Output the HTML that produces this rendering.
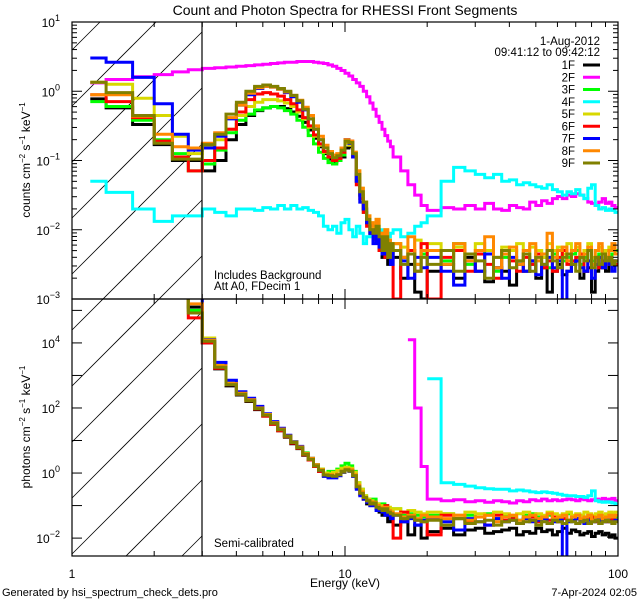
<!DOCTYPE html>
<html><head><meta charset="utf-8"><style>
html,body{margin:0;padding:0;background:#fff;overflow:hidden;width:640px;height:600px;}
svg{display:block;font-family:"Liberation Sans",sans-serif;}
</style></head><body>
<svg id="chart" width="640" height="600" viewBox="0 0 640 600" xmlns="http://www.w3.org/2000/svg">
<rect width="640" height="600" fill="#fff"/>
<defs>
<clipPath id="ctop"><rect x="72" y="22" width="546" height="277"/></clipPath>
<clipPath id="cbot"><rect x="72" y="299" width="546" height="257"/></clipPath>
</defs>
<text x="345" y="15" font-size="14" text-anchor="middle">Count and Photon Spectra for RHESSI Front Segments</text>
<g id="hatching"></g>
<g id="topSeries" clip-path="url(#ctop)"></g>
<g id="botSeries" clip-path="url(#cbot)"></g>
<g id="axes"></g>
<text x="214" y="279" font-size="11.5">Includes Background</text>
<text x="214" y="290" font-size="11.5">Att A0, FDecim 1</text>
<text x="214" y="547" font-size="11.5">Semi-calibrated</text>
<text x="345" y="587" font-size="12" text-anchor="middle">Energy (keV)</text>
<text x="2" y="596" font-size="11">Generated by hsi_spectrum_check_dets.pro</text>
<text x="637" y="596" font-size="11" text-anchor="end">7-Apr-2024 02:05</text>
<text transform="translate(30,160) rotate(-90)" font-size="12" text-anchor="middle">counts cm<tspan dy="-5" font-size="8">−2</tspan><tspan dy="5"> s</tspan><tspan dy="-5" font-size="8">−1</tspan><tspan dy="5"> keV</tspan><tspan dy="-5" font-size="8">−1</tspan></text>
<text transform="translate(30,427) rotate(-90)" font-size="12" text-anchor="middle">photons cm<tspan dy="-5" font-size="8">−2</tspan><tspan dy="5"> s</tspan><tspan dy="-5" font-size="8">−1</tspan><tspan dy="5"> keV</tspan><tspan dy="-5" font-size="8">−1</tspan></text>
<g id="legend"></g>
</svg>
<script>
// ---- data (log10 values) ----
const detectors = ["1F","2F","3F","4F","5F","6F","7F","8F","9F"];
const colors = ["#000000","#ff00ff","#00ff00","#00ffff","#d8d800","#ff0000","#0000ff","#ff8800","#808000"];
const xTickLabels = ["1","10","100"];
const topTickExps = [-3,-2,-1,0,1];
const botTickExps = [-2,0,2,4];
const obsDate = "1-Aug-2012";
const obsTime = "09:41:12 to 09:42:12";
// count spectra: bins 1.17-1.33,1.33-1.67,1.67-2,2-2.33,2.33-2.67,2.67-3, then 1/3 keV to 15, 1 keV to 20, 2.5 keV to 100
const cnt1F = [-0.11,-0.24,-0.48,-0.77,-1.0,-1.0,
 -1.15,-1.0,-0.7,-0.48,-0.35,-0.28,-0.24,-0.22,-0.22,-0.25,-0.3,-0.36,-0.45,-0.56,-0.68,-0.8,-0.9,-0.98,-1.02,-1.0,-0.95,-0.82,-0.8,-0.95,-1.3,-1.5,-1.7,-1.9,-2.05,-2.1,-2.0,-2.2,-2.4,-2.2,-2.5,-2.3,
 -2.4,-2.7,-2.5,-2.9,-3.0,
 -2.6,-2.5,-2.7,-2.4,-2.6,-2.75,-2.55,-2.6,-2.8,-2.5,-2.6,-2.45,-2.7,-2.55,-2.9,-2.6,-2.5,-2.65,-2.6,-2.5,-2.45,-2.7,-2.6,-2.55,-2.9,-2.6,-2.5,-2.55,-2.6,-2.5,-2.45,-2.5];
const cnt2F = [0.12,0.17,0.21,0.24,0.28,0.31,
 0.33,0.34,0.35,0.36,0.37,0.38,0.39,0.4,0.41,0.42,0.42,0.43,0.43,0.43,0.42,0.41,0.4,0.38,0.36,0.33,0.3,0.26,0.22,0.17,0.12,0.07,0.0,-0.08,-0.17,-0.26,-0.36,-0.45,-0.55,-0.64,-0.72,-0.8,
 -0.95,-1.15,-1.35,-1.5,-1.65,
 -1.72,-1.68,-1.7,-1.65,-1.7,-1.62,-1.7,-1.72,-1.65,-1.68,-1.7,-1.6,-1.65,-1.58,-1.62,-1.55,-1.52,-1.55,-1.5,-1.52,-1.48,-1.5,-1.55,-1.6,-1.62,-1.65,-1.6,-1.55,-1.62,-1.6,-1.65,-1.68];
const cnt3F = [-0.15,-0.22,-0.42,-0.7,-0.9,-1.15,
 -1.05,-0.85,-0.6,-0.42,-0.33,-0.27,-0.24,-0.22,-0.24,-0.28,-0.33,-0.42,-0.52,-0.64,-0.76,-0.88,-0.97,-1.03,-1.05,-1.0,-0.92,-0.72,-0.74,-0.92,-1.25,-1.5,-1.75,-1.9,-2.0,-1.95,-2.1,-2.3,-2.05,-2.25,-2.15,-2.35,
 -2.2,-2.4,-2.3,-2.5,-2.35,
 -2.3,-2.45,-2.2,-2.5,-2.35,-2.3,-2.6,-2.4,-2.3,-2.45,-2.35,-2.5,-2.3,-2.4,-2.55,-2.35,-2.3,-2.45,-2.4,-2.35,-2.3,-2.5,-2.4,-2.3,-2.45,-2.4,-2.35,-2.3,-2.4,-2.45,-2.35,-2.3];
const cnt4F = [-1.3,-1.46,-1.7,-1.88,-1.8,-1.8,
 -1.7,-1.75,-1.8,-1.7,-1.7,-1.72,-1.68,-1.7,-1.65,-1.7,-1.65,-1.7,-1.68,-1.72,-1.75,-1.8,-1.95,-2.0,-1.95,-2.05,-1.9,-1.85,-2.0,-2.1,-1.95,-2.05,-2.2,-2.1,-1.95,-2.0,-2.15,-2.0,-2.05,-2.2,-2.1,-2.05,
 -2.0,-2.1,-2.05,-1.95,-1.9,
 -1.8,-1.3,-1.1,-1.15,-1.2,-1.25,-1.2,-1.3,-1.28,-1.35,-1.32,-1.35,-1.38,-1.4,-1.35,-1.42,-1.45,-1.5,-1.45,-1.48,-1.42,-1.5,-1.55,-1.4,-1.35,-1.65,-1.7,-1.68,-1.72,-1.7,-1.72,-1.75];
const cnt5F = [0.13,0.1,-0.1,-0.35,-0.65,-0.9,
 -0.8,-0.7,-0.55,-0.35,-0.22,-0.16,-0.12,-0.12,-0.14,-0.17,-0.22,-0.3,-0.4,-0.52,-0.65,-0.78,-0.88,-0.95,-0.98,-0.95,-0.85,-0.75,-0.78,-0.88,-1.15,-1.4,-1.6,-1.8,-1.9,-2.0,-1.85,-2.05,-2.2,-2.0,-2.15,-2.3,
 -2.2,-2.25,-2.35,-2.15,-2.3,
 -2.2,-2.3,-2.25,-2.35,-2.2,-2.3,-2.4,-2.25,-2.3,-2.2,-2.35,-2.25,-2.3,-2.4,-2.2,-2.3,-2.25,-2.35,-2.2,-2.3,-2.25,-2.35,-2.3,-2.2,-2.4,-2.3,-2.25,-2.35,-2.3,-2.25,-2.3,-2.35];
const cnt6F = [-0.05,-0.15,-0.38,-0.72,-0.95,-1.15,
 -1.0,-0.82,-0.55,-0.3,-0.12,-0.04,-0.02,-0.04,-0.07,-0.12,-0.18,-0.27,-0.38,-0.5,-0.63,-0.76,-0.87,-0.95,-1.0,-0.97,-0.88,-0.7,-0.72,-0.95,-1.35,-1.55,-1.75,-1.95,-2.05,-2.0,-2.15,-2.3,-2.1,-2.4,-2.25,-2.3,
 -3.0,-2.4,-2.3,-2.6,-2.2,
 -3.0,-2.4,-2.3,-2.6,-2.35,-2.5,-2.7,-2.3,-2.45,-2.6,-2.4,-2.5,-2.35,-2.55,-2.45,-2.6,-2.4,-2.3,-2.5,-2.45,-2.4,-2.35,-2.6,-2.45,-2.5,-2.4,-2.55,-2.45,-2.4,-2.5,-2.45,-2.5];
const cnt7F = [0.48,0.42,0.2,-0.18,-0.62,-0.85,
 -0.82,-0.65,-0.4,-0.2,-0.05,0.04,0.07,0.06,0.03,-0.02,-0.08,-0.16,-0.27,-0.4,-0.55,-0.7,-0.82,-0.9,-0.95,-0.93,-0.85,-0.7,-0.75,-0.95,-1.3,-1.6,-1.7,-1.9,-2.05,-2.2,-2.0,-2.25,-2.35,-2.15,-2.3,-2.5,
 -2.3,-2.45,-2.7,-2.4,-2.55,
 -2.4,-2.6,-2.8,-2.45,-2.6,-2.35,-2.55,-2.7,-2.4,-2.5,-2.6,-2.45,-2.65,-2.5,-2.4,-2.55,-2.45,-3.05,-2.6,-2.5,-2.45,-2.55,-2.6,-2.45,-2.7,-2.5,-2.4,-2.55,-2.45,-2.5,-2.6,-2.45];
const cnt8F = [-0.05,-0.05,-0.36,-0.62,-0.8,-0.82,
 -0.75,-0.6,-0.38,-0.2,-0.03,0.05,0.07,0.06,0.03,-0.01,-0.06,-0.13,-0.23,-0.35,-0.5,-0.65,-0.78,-0.87,-0.92,-0.9,-0.82,-0.7,-0.72,-0.88,-1.15,-1.4,-1.6,-1.8,-1.9,-1.95,-1.85,-2.05,-2.2,-2.0,-2.15,-2.3,
 -2.2,-2.4,-2.1,-2.5,-2.3,
 -2.3,-2.5,-2.2,-2.45,-2.3,-2.1,-2.55,-2.35,-2.25,-2.5,-2.3,-2.2,-2.45,-2.35,-2.05,-2.4,-2.3,-2.25,-2.45,-2.3,-2.2,-2.4,-2.35,-2.25,-2.5,-2.3,-2.2,-2.35,-2.4,-2.3,-2.2,-2.35];
const cnt9F = [0.13,-0.02,-0.35,-0.75,-0.98,-0.98,
 -0.77,-0.62,-0.33,-0.16,0.0,0.07,0.09,0.07,0.04,0.0,-0.06,-0.14,-0.26,-0.4,-0.55,-0.7,-0.82,-0.9,-0.96,-0.93,-0.85,-0.72,-0.74,-0.9,-1.2,-1.45,-1.6,-1.85,-2.0,-2.05,-1.95,-2.1,-2.3,-2.1,-2.4,-2.2,
 -2.3,-2.5,-2.35,-2.6,-2.4,
 -2.5,-2.3,-2.6,-2.35,-2.45,-2.7,-2.4,-2.3,-2.55,-2.45,-2.35,-2.6,-2.4,-2.5,-2.3,-2.45,-2.55,-2.4,-2.35,-2.5,-2.6,-2.4,-2.45,-2.3,-2.55,-2.4,-2.5,-2.35,-2.45,-2.4,-2.5,-2.45];
// photon spectra: low bins (clipped above plot), then same binning
const ph1F = [7,7,7,6.5,6,5.1,
 4.0,3.2,2.68,2.4,2.2,1.95,1.75,1.5,1.3,1.1,0.9,0.75,0.55,0.4,0.2,0.05,-0.1,-0.1,-0.12,-0.08,0.03,0.1,0.08,-0.1,-0.45,-0.65,-0.8,-0.95,-1.0,-0.95,-1.1,-1.2,-1.3,-1.2,-1.5,-1.4,
 -1.6,-1.5,-1.9,-1.6,-2.0,
 -1.8,-1.7,-1.9,-1.75,-1.7,-1.85,-1.8,-1.75,-1.7,-1.9,-1.8,-1.85,-1.7,-1.8,-1.75,-1.9,-1.8,-1.7,-1.85,-1.75,-1.8,-1.9,-1.85,-1.8,-1.95,-1.85,-1.8,-1.9,-1.85,-1.95,-1.9,-2.0];
const ph2F = [null,null,null,null,null,null,
 null,null,null,null,null,null,null,null,null,null,null,null,null,null,null,null,null,null,null,null,null,null,null,null,null,null,null,null,null,null,null,null,null,null,null,null,
 null,null,4.1,2.0,0.2,
 -0.8,-0.85,-0.82,-0.88,-0.85,-0.9,-0.85,-0.88,-0.92,-0.85,-0.88,-0.82,-0.85,-0.8,-0.85,-0.82,-0.85,-0.82,-0.8,-0.82,-0.85,-0.8,-0.82,-0.85,-0.82,-0.8,-0.82,-0.78,-0.82,-0.8,-0.78,-0.85];
const ph3F = [7,7,7,6.5,6,5.0,
 4.05,3.28,2.78,2.46,2.26,2.02,1.8,1.56,1.36,1.15,0.96,0.8,0.62,0.45,0.26,0.12,0.0,0.05,0.05,0.12,0.22,0.3,0.22,0.05,-0.3,-0.5,-0.7,-0.8,-0.85,-0.8,-0.95,-1.0,-0.95,-1.0,-1.1,-1.2,
 -1.1,-1.3,-1.25,-1.3,-1.35,
 -1.3,-1.25,-1.4,-1.3,-1.35,-1.25,-1.4,-1.3,-1.35,-1.45,-1.3,-1.25,-1.35,-1.4,-1.3,-1.35,-1.4,-1.3,-1.25,-1.35,-1.4,-1.3,-1.35,-1.3,-1.4,-1.35,-1.3,-1.4,-1.35,-1.3,-1.25,-1.35];
const ph4F = [null,null,null,null,null,null,
 null,null,null,null,null,null,null,null,null,null,null,null,null,null,null,null,null,null,null,null,null,null,null,null,null,null,null,null,null,null,null,null,null,null,null,null,
 null,null,null,null,null,
 2.9,-0.3,-0.35,-0.4,-0.45,-0.48,-0.5,-0.5,-0.55,-0.52,-0.55,-0.58,-0.6,-0.58,-0.6,-0.62,-0.65,-0.68,-0.7,-0.7,-0.72,-0.72,-0.75,-0.7,-0.55,-0.85,-0.88,-0.9,-0.88,-0.9,-0.92,-0.95];
const ph5F = [7,7,7,6.5,6,5.4,
 4.15,3.32,2.8,2.45,2.25,2.0,1.78,1.55,1.33,1.12,0.93,0.78,0.58,0.45,0.26,0.12,0.0,-0.02,0.02,0.08,0.15,0.18,0.15,0.02,-0.3,-0.5,-0.7,-0.8,-0.85,-0.9,-0.95,-1.0,-1.05,-1.1,-1.05,-1.15,
 -1.1,-1.2,-1.15,-1.2,-1.25,
 -1.2,-1.25,-1.3,-1.2,-1.25,-1.3,-1.2,-1.25,-1.3,-1.25,-1.2,-1.3,-1.25,-1.3,-1.2,-1.25,-1.3,-1.25,-1.2,-1.3,-1.25,-1.3,-1.2,-1.25,-1.3,-1.25,-1.2,-1.3,-1.25,-1.2,-1.25,-1.2];
const ph6F = [7,7,7,6.5,6,4.77,
 4.0,3.22,2.72,2.42,2.22,1.97,1.75,1.5,1.3,1.12,0.92,0.76,0.56,0.4,0.2,0.05,-0.08,-0.08,-0.1,-0.05,0.05,0.1,0.08,-0.08,-0.45,-0.65,-0.8,-0.85,-0.95,-0.9,-1.0,-1.1,-1.15,-1.0,-1.2,-1.3,
 -2.0,-1.2,-1.35,-1.45,-1.5,
 -1.9,-1.3,-1.4,-1.5,-1.35,-1.6,-1.3,-1.45,-1.4,-1.55,-1.4,-1.35,-1.5,-1.4,-1.45,-1.35,-1.5,-1.4,-1.45,-1.35,-1.4,-1.5,-1.45,-1.4,-1.35,-1.5,-1.45,-1.4,-1.5,-1.45,-1.4,-1.45];
const ph7F = [7,7,7,6.5,6,5.5,
 4.1,3.4,2.85,2.5,2.3,2.05,1.82,1.58,1.38,1.16,0.96,0.82,0.6,0.45,0.25,0.08,-0.1,-0.15,-0.15,-0.08,0.05,0.1,0.05,-0.1,-0.5,-0.7,-0.8,-0.9,-1.0,-1.0,-1.15,-1.1,-1.2,-1.3,-1.25,-1.4,
 -1.3,-1.5,-1.4,-1.6,-1.45,
 -1.4,-1.5,-1.75,-1.4,-1.5,-1.6,-1.4,-1.5,-1.45,-1.55,-1.4,-1.5,-1.45,-1.4,-1.55,-1.5,-1.45,-2.6,-1.5,-1.45,-1.4,-1.5,-1.55,-1.45,-1.5,-1.4,-1.45,-1.5,-1.45,-1.5,-1.55,-1.45];
const ph8F = [7,7,7,6.5,6,5.2,
 4.08,3.3,2.75,2.45,2.25,2.0,1.8,1.55,1.35,1.14,0.95,0.8,0.6,0.45,0.25,0.1,-0.05,-0.05,-0.08,-0.03,0.06,0.12,0.1,-0.05,-0.38,-0.58,-0.75,-0.85,-0.95,-0.9,-1.0,-1.05,-1.1,-1.05,-1.15,-1.2,
 -1.25,-1.35,-1.3,-1.4,-1.3,
 -1.35,-1.4,-1.3,-1.45,-1.35,-1.3,-1.5,-1.35,-1.3,-1.45,-1.35,-1.3,-1.4,-1.35,-1.25,-1.4,-1.35,-1.3,-1.45,-1.35,-1.3,-1.4,-1.35,-1.3,-1.45,-1.35,-1.3,-1.4,-1.35,-1.3,-1.35,-1.3];
const ph9F = [7,7,7,6.5,6,4.92,
 4.05,3.25,2.72,2.42,2.22,1.98,1.78,1.53,1.33,1.13,0.94,0.78,0.58,0.42,0.22,0.08,-0.06,-0.08,-0.1,-0.05,0.05,0.1,0.06,-0.08,-0.42,-0.62,-0.75,-0.85,-0.95,-0.92,-1.05,-1.1,-1.15,-1.1,-1.2,-1.25,
 -1.3,-1.4,-1.35,-1.45,-1.5,
 -1.45,-1.6,-1.4,-1.55,-1.5,-1.45,-1.6,-1.5,-1.45,-1.55,-1.5,-1.45,-1.6,-1.5,-1.55,-1.45,-1.5,-1.55,-1.45,-1.5,-1.55,-1.5,-1.45,-1.55,-1.5,-1.45,-1.55,-1.5,-1.45,-1.5,-1.55,-1.5];
const countSeries = [cnt1F,cnt2F,cnt3F,cnt4F,cnt5F,cnt6F,cnt7F,cnt8F,cnt9F];
const photonSeries = [ph1F,ph2F,ph3F,ph4F,ph5F,ph6F,ph7F,ph8F,ph9F];
const drawOrder = [1,3,0,2,4,5,6,7,8];

// ---- bin edges (energy categories) ----
const edges = [1.167,1.333,1.667,2,2.333,2.667,3];
for (let i=1;i<=36;i++) edges.push(3+i/3);
for (let e=16;e<=20;e++) edges.push(e);
for (let i=1;i<=32;i++) edges.push(20+i*2.5);

// ---- axes functions ----
const X0=72, X1=618, TOP0=22, TOP1=299, BOT0=299, BOT1=556;
const xs = e => X0 + (X1-X0)*Math.log10(e)/2;
const yTop = l => TOP0 + (1 - l)*(TOP1-TOP0)/4;
const BMAX=5.35, BMIN=-2.55;
const yBot = l => BOT0 + (BMAX - l)*(BOT1-BOT0)/(BMAX-BMIN);

const NS="http://www.w3.org/2000/svg";
function mk(tag, attrs, parent){const el=document.createElementNS(NS,tag);for(const k in attrs)el.setAttribute(k,attrs[k]);parent.appendChild(el);return el;}

function stepPath(vals, yf, ymin, ymax){
  let d="", pen=false;
  for(let i=0;i<vals.length && i+1<edges.length;i++){
    const v=vals[i];
    if(v===null||v===undefined){pen=false;continue;}
    const x0=xs(edges[i]), x1=xs(edges[i+1]);
    const y=Math.min(ymax,Math.max(ymin,yf(v))).toFixed(1);
    d += (pen? "L":"M")+x0.toFixed(1)+","+y+"L"+x1.toFixed(1)+","+y;
    pen=true;
  }
  return d;
}
const gTop=document.getElementById("topSeries"), gBot=document.getElementById("botSeries");
drawOrder.forEach(k=>{
  const p=mk("path",{d:stepPath(countSeries[k],yTop,TOP0-3,TOP1+3),fill:"none",stroke:colors[k],"stroke-width":3,"stroke-linejoin":"miter"},gTop);
  
  
  const q=mk("path",{d:stepPath(photonSeries[k],yBot,BOT0-3,BOT1+3),fill:"none",stroke:colors[k],"stroke-width":3},gBot);
  
  
});

// hatching (manually clipped to x 72..202, y 22..556)
const gH=document.getElementById("hatching");
for(let c=50;c<760;c+=56){
  // line: y = c - (x-72)
  const xa=Math.max(72, 72+c-556), xb=Math.min(202, 72+c-22);
  if(xb<=xa) continue;
  const l=mk("line",{x1:xa,y1:c-(xa-72),x2:xb,y2:c-(xb-72),stroke:"#000","stroke-width":0.8},gH);
  
  
}

// axes
const gA=document.getElementById("axes");
function line(x1,y1,x2,y2,w){const l=mk("line",{x1,y1,x2,y2,stroke:"#000","stroke-width":w||1},gA);return l;}
function frame(y0,y1,name){const r=mk("rect",{x:X0,y:y0,width:X1-X0,height:y1-y0,fill:"none",stroke:"#000","stroke-width":1.2},gA);}
frame(TOP0,TOP1,'top-plot-frame'); frame(BOT0,BOT1,'bottom-plot-frame');
line(202,TOP0,202,BOT1,1.2);
// x ticks
for(let dec=0;dec<2;dec++){for(let m=1;m<=9;m++){
  const e=m*Math.pow(10,dec); const x=xs(e); const len=(m===1)?10:5;
  [[TOP0,1],[TOP1,-1],[BOT0,1],[BOT1,-1]].forEach(([y,s])=>line(x,y,x,y+s*len));
}}
xTickLabels.forEach((t,i)=>{const tx=mk("text",{x:xs(Math.pow(10,i)),y:578,"font-size":12,"text-anchor":"middle"},gA);tx.textContent=t;});
// top y ticks
for(let ex=-3;ex<1;ex++){for(let m=1;m<=9;m++){
  const l=ex+Math.log10(m); const y=yTop(l); const len=(m===1)?10:5;
  line(X0,y,X0+len,y); line(X1,y,X1-len,y);
}}
line(X0,yTop(1),X0+10,yTop(1)); line(X1,yTop(1),X1-10,yTop(1));
topTickExps.forEach(ex=>{const tx=mk("text",{x:60,y:yTop(ex)+5,"font-size":12,"text-anchor":"end"},gA);tx.textContent="10";const ts=mk("tspan",{dy:-6,"font-size":9},tx);ts.textContent=(ex<0?"−":"")+Math.abs(ex);});
// bottom y ticks
for(let ex=-2;ex<=5;ex++){const y=yBot(ex); line(X0,y,X0+10,y); line(X1,y,X1-10,y);}
botTickExps.forEach(ex=>{const tx=mk("text",{x:60,y:yBot(ex)+5,"font-size":12,"text-anchor":"end"},gA);tx.textContent="10";const ts=mk("tspan",{dy:-6,"font-size":9},tx);ts.textContent=(ex<0?"−":"")+Math.abs(ex);});

// legend
const gL=document.getElementById("legend");
const d1=mk("text",{x:600,y:45,"font-size":11.5,"text-anchor":"end"},gL);d1.textContent=obsDate;
const d2=mk("text",{x:600,y:56,"font-size":11.5,"text-anchor":"end"},gL);d2.textContent=obsTime;
detectors.forEach((dn,i)=>{
  const y=65+i*12.25;
  const t=mk("text",{x:575,y:y+4,"font-size":11.5,"text-anchor":"end"},gL);t.textContent=dn;
  
  
  const l=mk("line",{x1:583,y1:y,x2:600,y2:y,stroke:colors[i],"stroke-width":3},gL);
  
  
});
</script>
</body></html>
